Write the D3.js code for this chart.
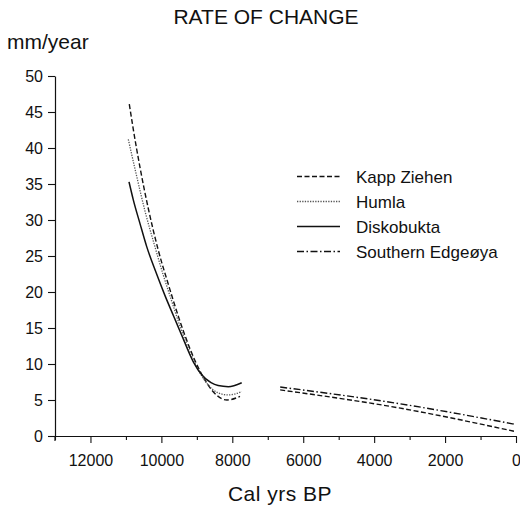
<!DOCTYPE html>
<html><head><meta charset="utf-8">
<script src="https://cdn.jsdelivr.net/npm/d3@7"></script>
<style>
body{margin:0;background:#fff;}
text{font-family:"Liberation Sans",Arial,Helvetica,sans-serif;fill:#111;}
</style></head>
<body>
<svg id="c" width="520" height="509"></svg>
<script>
// ---- data ----
const yTicks = [0,5,10,15,20,25,30,35,40,45,50];
const xTicks = [12000,10000,8000,6000,4000,2000,0];
const xMinorTicks = [13000,11000,9000,7000,5000,3000,1000];
const seriesNames = ["Kapp Ziehen","Humla","Diskobukta","Southern Edgeøya"];

const kappEarlyYears  = [10905,10792,10603,10369,10087,9800,9500,9200,8950,8700,8450,8150,7783];
const kappEarlyValues = [46.1,42.6,37.3,31.6,25.8,21.0,16.3,12.2,9.4,7.2,5.7,5.0,5.5];
const kappLateYears   = [6650,3300,0];
const kappLateValues  = [6.4,3.9,0.6];

const humlaYears  = [10933,10707,10450,10200,9950,9700,9450,9200,8950,8700,8400,8113,7735];
const humlaValues = [41.2,36.3,31.0,26.6,22.4,18.6,14.9,11.7,9.1,7.2,6.0,5.7,6.15];

const diskoYears  = [10913,10792,10603,10414,10150,9898,9650,9427,9100,8863,8600,8400,8113,7735];
const diskoValues = [35.3,32.8,29.5,26.3,22.7,19.5,16.6,14.0,10.3,8.5,7.4,7.0,6.85,7.4];

const edgeYears  = [6650,3300,0];
const edgeValues = [6.8,4.5,1.6];

// ---- chart ----
const svg = d3.select("#c");
const x = d3.scaleLinear().domain([13000,0]).range([55,516]);
const y = d3.scaleLinear().domain([0,50]).range([436,76]);

svg.append("text").attr("x",266).attr("y",24).attr("text-anchor","middle")
  .style("font-size","21px").text("RATE OF CHANGE");
svg.append("text").attr("x",7).attr("y",49).style("font-size","21px").text("mm/year");
svg.append("text").attr("x",280).attr("y",501).attr("text-anchor","middle")
  .style("font-size","21px").style("letter-spacing","0.5px").text("Cal yrs BP");

const yAxis = svg.append("g").attr("transform","translate(55,0)")
  .call(d3.axisLeft(y).tickValues(yTicks).tickSize(7).tickSizeOuter(0).tickPadding(5).tickFormat(d3.format("d")));
const xAxisMinor = svg.append("g").attr("transform","translate(0,436)")
  .call(d3.axisBottom(x).tickValues(xMinorTicks).tickSize(4).tickSizeOuter(0).tickFormat(""));
xAxisMinor.select(".domain").remove();
const xAxis = svg.append("g").attr("transform","translate(0,436)")
  .call(d3.axisBottom(x).tickValues(xTicks).tickSize(7).tickSizeOuter(0).tickPadding(12).tickFormat(d3.format("d")));

[yAxis,xAxis,xAxisMinor].forEach(g=>{
  g.selectAll("text").style("font-size","16px").style("font-family","'Liberation Sans',Arial,sans-serif").attr("fill","#111");
  g.selectAll("line").attr("stroke","#111").attr("stroke-width",1.1);
  g.select(".domain").attr("stroke","#111").attr("stroke-width",1.2);
});
svg.append("line").attr("x1",55).attr("x2",55).attr("y1",y(0)).attr("y2",y(0)+5)
  .attr("stroke","#111").attr("stroke-width",1.2);

const line = d3.line().x(d=>x(d[0])).y(d=>y(d[1])).curve(d3.curveMonotoneX);
const zip = (a,b)=>a.map((v,i)=>[v,b[i]]);

const styles = {
  "Kapp Ziehen": {dash:"5,2.5", color:"#111", w:1.4},
  "Humla": {dash:"1.3,1.3", color:"#555", w:1.3},
  "Diskobukta": {dash:null, color:"#111", w:1.5},
  "Southern Edgeøya": {dash:"7,2.5,1.5,2.5", color:"#111", w:1.4}
};
const series = [
  {name:"Kapp Ziehen", data:zip(kappEarlyYears,kappEarlyValues)},
  {name:"Kapp Ziehen", data:zip(kappLateYears,kappLateValues)},
  {name:"Humla", data:zip(humlaYears,humlaValues)},
  {name:"Diskobukta", data:zip(diskoYears,diskoValues)},
  {name:"Southern Edgeøya", data:zip(edgeYears,edgeValues)}
];
svg.append("g").selectAll("path").data(series).join("path")
  .attr("d",d=>line(d.data)).attr("fill","none")
  .attr("stroke",d=>styles[d.name].color)
  .attr("stroke-width",d=>styles[d.name].w)
  .attr("stroke-dasharray",d=>styles[d.name].dash);

// legend
const lg = svg.append("g");
seriesNames.forEach((n,i)=>{
  const yy = 176.5 + i*25;
  lg.append("line").attr("x1",297).attr("x2",340).attr("y1",yy).attr("y2",yy)
    .attr("stroke",styles[n].color).attr("stroke-width",styles[n].w)
    .attr("stroke-dasharray",styles[n].dash);
  lg.append("text").attr("x",356).attr("y",yy+6).style("font-size","17px").text(n);
});
</script>
</body></html>
